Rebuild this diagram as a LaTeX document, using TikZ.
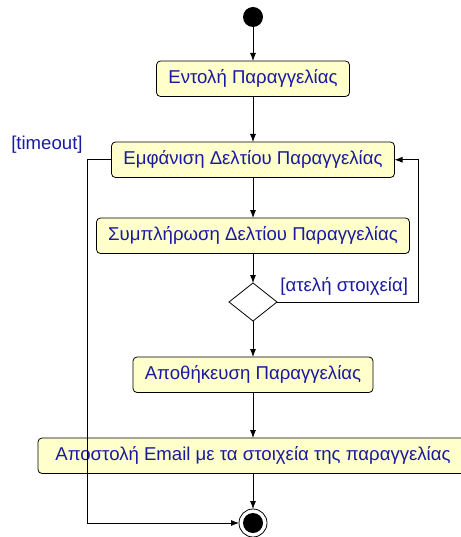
\documentclass[tikz,border=0pt]{standalone}
\usepackage{fontspec}
\setmainfont{Liberation Sans}
\usetikzlibrary{shapes.geometric, arrows, arrows.meta, positioning}
\definecolor{aYellow}{HTML}{FFFFCC}
\definecolor{aBlue}{HTML}{1A1AA0}
\tikzstyle{action} = [rectangle, rounded corners=4pt, draw, fill=aYellow, minimum height=35.5pt, inner xsep=2pt, outer sep=0pt, text=aBlue, font=\fontsize{18.6}{20}\selectfont, text centered]
\tikzstyle{decision} = [diamond, draw, fill=white, minimum width=48pt, minimum height=38pt, inner sep=0pt, outer sep=0pt, aspect=1.26]
\tikzstyle{guard} = [text=aBlue, font=\fontsize{18.6}{20}\selectfont]
\tikzstyle{flow} = [->, >={Latex[length=8pt,width=6pt]}]

\begin{document}
\begin{tikzpicture}[node distance = 40pt, line width=0.8pt]
  \useasboundingbox (0pt,0pt) rectangle (460pt,-537pt);
  \node (start) [circle, fill=black, minimum size=20pt, inner sep=0pt, outer sep=0pt] at (253pt,-17pt) {};
  \node (order) [action, minimum width=193pt, below= 34pt of start] {Εντολή Παραγγελίας};
  \node (show) [action, minimum width=283pt, below= 45.5pt of order] {Εμφάνιση Δελτίου Παραγγελίας};
  \node (fill) [action, minimum width=313pt, below= 40.5pt of show] {Συμπλήρωση Δελτίου Παραγγελίας};
  \node (check) [decision, below= 29.5pt of fill] {};
  \node (save) [action, minimum width=240pt, below= 36pt of check] {Αποθήκευση Παραγγελίας};
  \node (mail) [action, minimum width=430pt, below= 45.5pt of save] {Αποστολή Email με τα στοιχεία της παραγγελίας};
  \node (end) [circle, draw, fill=white, minimum size=28pt, inner sep=0pt, outer sep=0pt, below= 35.5pt of mail] {};
  \fill (end) circle (10pt);
  \coordinate (loop) at (418pt,-302pt);
  \coordinate (away) at (87pt,-159pt);
  \draw [flow] (start) -- (order);
  \draw [flow] (order) -- (show);
  \draw [flow] (show) -- (fill);
  \draw [flow] (fill) -- (check);
  \draw [flow] (check) -- (save);
  \draw [flow] (save) -- (mail);
  \draw [flow] (mail) -- (end);
  % incomplete data goes back
  \draw [flow] (check.east) -- (check.east -| loop) |- (show.east);
  \node (incomplete) [guard, anchor=south west, inner sep=1pt] at ([xshift=2pt, yshift=5pt]check.east) {[ατελή στοιχεία]};
  % timeout
  \draw [flow] (show.west) -- (show.west -| away) |- (end.west);
  \node (timeout) [guard, anchor=east, inner sep=1pt] at (84pt,-145pt) {[timeout]};
\end{tikzpicture}
\end{document}
